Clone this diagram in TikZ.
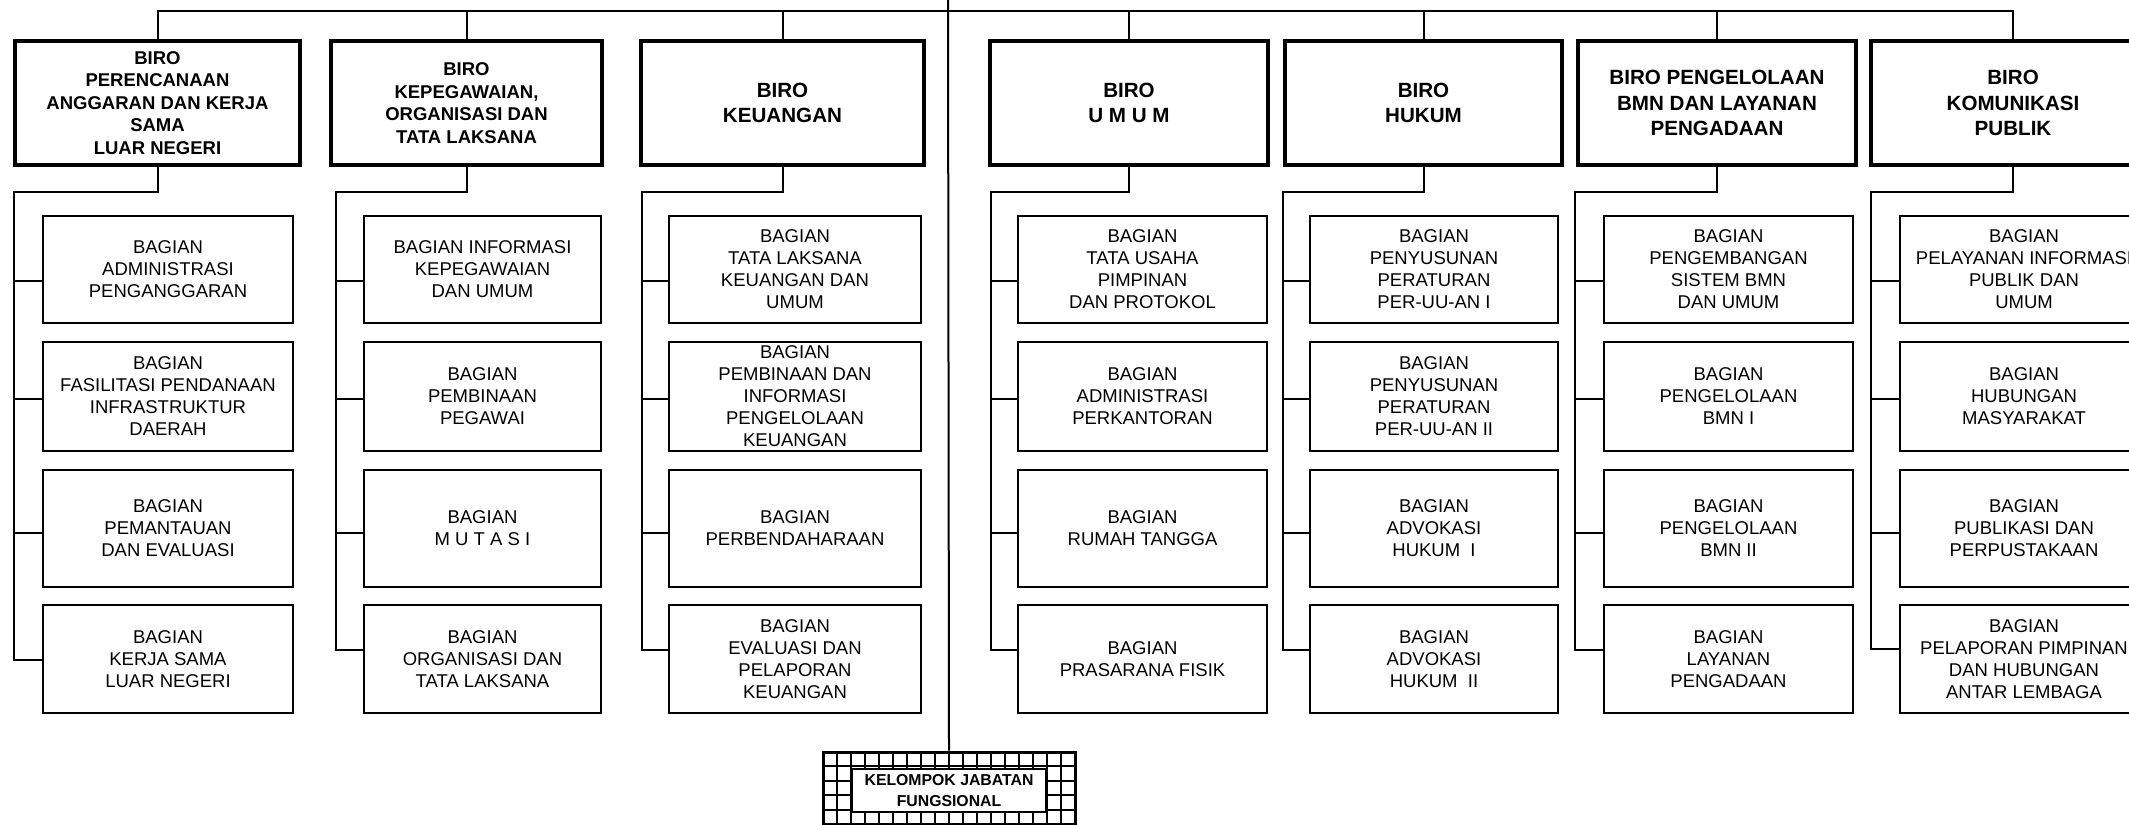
\documentclass[tikz,border=0pt]{standalone}
\usepackage{fontspec}
\setmainfont{Liberation Sans}

% \orgbox{style}{name}{x1}{y1}{x2}{y2}{text}: a box given by its corners (in px)
\newcommand\orgbox[7]{%
  \pgfmathsetmacro\bxcx{(#3+#5)/2}%
  \pgfmathsetmacro\bxcy{(#4+#6)/2}%
  \pgfmathsetmacro\bxw{(#5-#3)/2}%
  \pgfmathsetmacro\bxh{(#6-#4)/2}%
  \node[#1, minimum width=\bxw pt, minimum height=\bxh pt] (#2) at (\bxcx,\bxcy) {#7};}

\begin{document}
\begin{tikzpicture}[x=0.5pt,y=-0.5pt,
  biro/.style={draw, line width=2.2pt, align=center, inner sep=0pt,
    font=\bfseries\fontsize{9.25}{11.25}\selectfont},
  bigbiro/.style={biro, font=\bfseries\fontsize{10.3}{12.7}\selectfont},
  bagian/.style={draw, line width=1.3pt, align=center, inner sep=0pt,
    font=\fontsize{9.25}{11}\selectfont},
  fungbox/.style={draw, line width=1.5pt, inner sep=0pt},
  fungtext/.style={draw, fill=white, line width=1.2pt, align=center, inner sep=0pt,
    font=\bfseries\fontsize{7.9}{10.3}\selectfont},
  link/.style={line width=1pt},
  gridline/.style={line width=1pt},
  ]
\useasboundingbox (0,0) rectangle (2129,824);
\clip (0,0) rectangle (2129,824);

% ---- Biro level
\orgbox{biro}{b1}{15}{41}{300}{165}{BIRO\\PERENCANAAN\\ANGGARAN DAN KERJA\\SAMA\\LUAR NEGERI}
\orgbox{biro}{b2}{331}{41}{602}{165}{BIRO\\KEPEGAWAIAN,\\ORGANISASI DAN\\TATA LAKSANA}
\orgbox{bigbiro}{b3}{641}{41}{924}{165}{BIRO\\KEUANGAN}
\orgbox{bigbiro}{b4}{990}{41}{1268}{165}{BIRO\\U M U M}
\orgbox{bigbiro}{b5}{1285}{41}{1562}{165}{BIRO\\HUKUM}
\orgbox{bigbiro}{b6}{1578}{41}{1856}{165}{BIRO PENGELOLAAN\\BMN DAN LAYANAN\\PENGADAAN}
\orgbox{bigbiro}{b7}{1871}{41}{2155}{165}{BIRO\\KOMUNIKASI\\PUBLIK}

% ---- Bagian level, column 1
\orgbox{bagian}{c11}{43}{216}{293}{323}{BAGIAN\\ADMINISTRASI\\PENGANGGARAN}
\orgbox{bagian}{c12}{43}{342}{293}{451}{BAGIAN\\FASILITASI PENDANAAN\\INFRASTRUKTUR\\DAERAH}
\orgbox{bagian}{c13}{43}{470}{293}{587}{BAGIAN\\PEMANTAUAN\\DAN EVALUASI}
\orgbox{bagian}{c14}{43}{605}{293}{713}{BAGIAN\\KERJA SAMA\\LUAR NEGERI}
% column 2
\orgbox{bagian}{c21}{364}{216}{601}{323}{BAGIAN INFORMASI\\KEPEGAWAIAN\\DAN UMUM}
\orgbox{bagian}{c22}{364}{342}{601}{451}{BAGIAN\\PEMBINAAN\\PEGAWAI}
\orgbox{bagian}{c23}{364}{470}{601}{587}{BAGIAN\\M U T A S I}
\orgbox{bagian}{c24}{364}{605}{601}{713}{BAGIAN\\ORGANISASI DAN\\TATA LAKSANA}
% column 3
\orgbox{bagian}{c31}{669}{216}{921}{323}{BAGIAN\\TATA LAKSANA\\KEUANGAN DAN\\UMUM}
\orgbox{bagian}{c32}{669}{342}{921}{451}{BAGIAN\\PEMBINAAN DAN\\INFORMASI\\PENGELOLAAN\\KEUANGAN}
\orgbox{bagian}{c33}{669}{470}{921}{587}{BAGIAN\\PERBENDAHARAAN}
\orgbox{bagian}{c34}{669}{605}{921}{713}{BAGIAN\\EVALUASI DAN\\PELAPORAN\\KEUANGAN}
% column 4
\orgbox{bagian}{c41}{1018}{216}{1267}{323}{BAGIAN\\TATA USAHA\\PIMPINAN\\DAN PROTOKOL}
\orgbox{bagian}{c42}{1018}{342}{1267}{451}{BAGIAN\\ADMINISTRASI\\PERKANTORAN}
\orgbox{bagian}{c43}{1018}{470}{1267}{587}{BAGIAN\\RUMAH TANGGA}
\orgbox{bagian}{c44}{1018}{605}{1267}{713}{BAGIAN\\PRASARANA FISIK}
% column 5
\orgbox{bagian}{c51}{1310}{216}{1558}{323}{BAGIAN\\PENYUSUNAN\\PERATURAN\\PER-UU-AN I}
\orgbox{bagian}{c52}{1310}{342}{1558}{451}{BAGIAN\\PENYUSUNAN\\PERATURAN\\PER-UU-AN II}
\orgbox{bagian}{c53}{1310}{470}{1558}{587}{BAGIAN\\ADVOKASI\\HUKUM\ \ I}
\orgbox{bagian}{c54}{1310}{605}{1558}{713}{BAGIAN\\ADVOKASI\\HUKUM\ \ II}
% column 6
\orgbox{bagian}{c61}{1604}{216}{1853}{323}{BAGIAN\\PENGEMBANGAN\\SISTEM BMN\\DAN UMUM}
\orgbox{bagian}{c62}{1604}{342}{1853}{451}{BAGIAN\\PENGELOLAAN\\BMN I}
\orgbox{bagian}{c63}{1604}{470}{1853}{587}{BAGIAN\\PENGELOLAAN\\BMN II}
\orgbox{bagian}{c64}{1604}{605}{1853}{713}{BAGIAN\\LAYANAN\\PENGADAAN}
% column 7
\orgbox{bagian}{c71}{1900}{216}{2148}{323}{BAGIAN\\PELAYANAN INFORMASI\\PUBLIK DAN\\UMUM}
\orgbox{bagian}{c72}{1900}{342}{2148}{451}{BAGIAN\\HUBUNGAN\\MASYARAKAT}
\orgbox{bagian}{c73}{1900}{470}{2148}{587}{BAGIAN\\PUBLIKASI DAN\\PERPUSTAKAAN}
\orgbox{bagian}{c74}{1900}{605}{2148}{713}{BAGIAN\\PELAPORAN PIMPINAN\\DAN HUBUNGAN\\ANTAR LEMBAGA}

% ---- Functional group box with a grid border
\orgbox{fungbox}{fung}{823}{752}{1075}{828}{}
\begin{scope}
  \clip (fung.south west) rectangle (fung.north east);
  \foreach \k in {1,...,17}
    \draw[gridline] ({823+14*\k},752) -- ({823+14*\k},830);
  \foreach \k in {1,...,5}
    \draw[gridline] (823,{752+14.4*\k}) -- (1075,{752+14.4*\k});
\end{scope}
\orgbox{fungtext}{fungt}{852}{769}{1046}{812}{KELOMPOK JABATAN\\FUNGSIONAL}

% ---- Upper bus and trunk
\coordinate (bus) at (948,11);
\coordinate (ctop) at (948,-4);
\draw[link] (b1.north) |- (bus) -| (b7.north);
\foreach \i in {2,...,6}
  \draw[link] (b\i.north) -- (b\i.north |- bus);
\draw[link] (ctop) -- (fung.north);

% ---- Spines under each Biro
\coordinate (s1) at (14,192);
\coordinate (s2) at (336,192);
\coordinate (s3) at (642,192);
\coordinate (s4) at (991,192);
\coordinate (s5) at (1283,192);
\coordinate (s6) at (1575,192);
\coordinate (s7) at (1871,192);

\foreach \i/\d in {1/-0.5,2/4.5,3/4.5,4/4.5,5/4.5,6/4.5,7/5} {
  \draw[link] (b\i.south) |- (s\i) |- ([yshift=\d pt]c\i4.west);
  \draw[link] (s\i) |- ([yshift=-5.5pt]c\i1.west);
  \draw[link] (s\i) |- ([yshift=-1pt]c\i2.west);
  \draw[link] (s\i) |- ([yshift=-2pt]c\i3.west);
}
\end{tikzpicture}
\end{document}
